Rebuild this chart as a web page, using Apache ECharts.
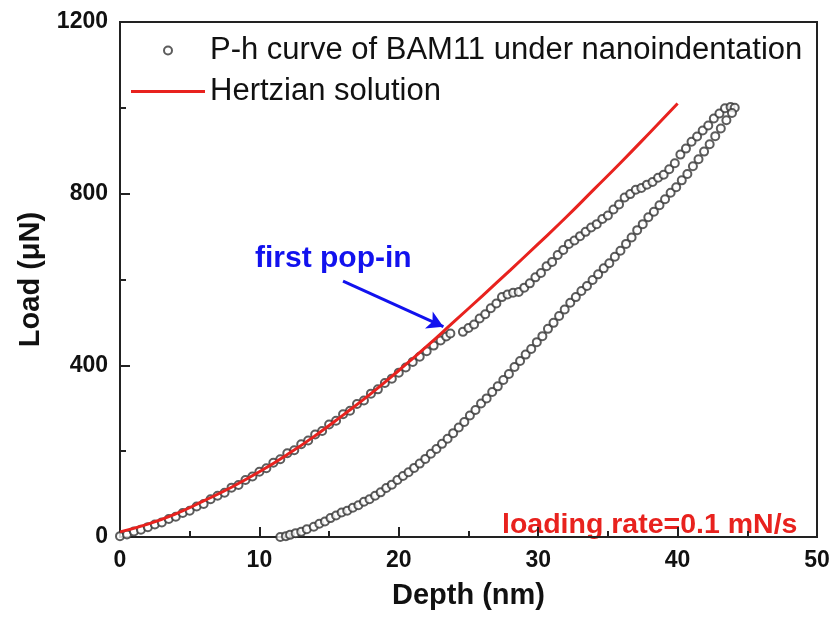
<!DOCTYPE html>
<html>
<head>
<meta charset="utf-8">
<script src="https://cdn.jsdelivr.net/npm/echarts@6/dist/echarts.min.js"></script>
<style>
  html, body { margin: 0; padding: 0; background: #fff; }
  #main { width: 830px; height: 621px; }
</style>
</head>
<body>
<div id="main"></div>
<script>
// loading branch up to the first pop-in
const loadH = [0.0, 0.5, 1.0, 1.5, 2.0, 2.5, 3.0, 3.5, 4.0, 4.5, 5.0, 5.5, 6.0, 6.5, 7.0, 7.5, 8.0, 8.5, 9.0, 9.5,
  10.0, 10.5, 11.0, 11.5, 12.0, 12.5, 13.0, 13.5, 14.0, 14.5, 15.0, 15.5, 16.0, 16.5, 17.0, 17.5, 18.0, 18.5, 19.0, 19.5,
  20.0, 20.5, 21.0, 21.5, 22.0, 22.5, 23.0, 23.4, 23.7]
const loadP = [2, 6, 13, 17, 23, 29, 34, 42, 47, 56, 61, 71, 77, 88, 96, 103, 115, 121, 133, 141,
  152, 160, 173, 181, 195, 202, 216, 225, 239, 247, 262, 271, 286, 294, 310, 318, 334, 344, 359, 369,
  383, 395, 408, 420, 433, 446, 458, 467, 474]

// loading branch after the pop-in
const popH = [24.6, 25.0, 25.4, 25.8, 26.2, 26.6, 27.0, 27.4, 27.8, 28.2, 28.6, 29.0, 29.4, 29.8, 30.2, 30.6, 31.0, 31.4,
  31.8, 32.2, 32.6, 33.0, 33.4, 33.8, 34.2, 34.6, 35.0, 35.4, 35.8, 36.2, 36.6, 37.0, 37.4, 37.8, 38.2, 38.6, 39.0, 39.4,
  39.8, 40.2, 40.6, 41.0, 41.4, 41.8, 42.2, 42.6, 43.0, 43.4, 43.8, 44.1]
const popP = [478, 487, 495, 509, 519, 533, 544, 559, 565, 569, 571, 581, 591, 605, 615, 631, 641, 657,
  669, 683, 691, 701, 711, 721, 729, 741, 749, 763, 775, 791, 799, 809, 813, 821, 827, 837, 844, 857,
  871, 891, 905, 921, 933, 947, 959, 975, 987, 999, 1002, 1000]

// unloading branch
const unloadH = [11.5, 11.9, 12.2, 12.6, 13.0, 13.4, 13.9, 14.3, 14.7, 15.1, 15.5, 15.9, 16.3, 16.7, 17.1, 17.5, 17.9,
  18.3, 18.7, 19.1, 19.5, 19.9, 20.3, 20.7, 21.1, 21.5, 21.9, 22.3, 22.7, 23.1, 23.5, 23.9, 24.3, 24.7, 25.1, 25.5,
  25.9, 26.3, 26.7, 27.1, 27.5, 27.9, 28.3, 28.7, 29.1, 29.5, 29.9, 30.3, 30.7, 31.1, 31.5, 31.9, 32.3, 32.7, 33.1,
  33.5, 33.9, 34.3, 34.7, 35.1, 35.5, 35.9, 36.3, 36.7, 37.1, 37.5, 37.9, 38.3, 38.7, 39.1, 39.5, 39.9, 40.3, 40.7,
  41.1, 41.5, 41.9, 42.3, 42.7, 43.1, 43.5, 43.9]
const unloadP = [0, 2, 5, 9, 12, 18, 24, 31, 36, 44, 50, 57, 61, 68, 74, 82, 88, 96, 104, 114, 122, 133, 142, 151,
  161, 171, 182, 194, 205, 217, 229, 242, 255, 268, 283, 296, 311, 323, 338, 351, 366, 380, 396, 410, 425, 438, 454,
  468, 485, 499, 515, 530, 546, 559, 573, 585, 599, 612, 626, 638, 653, 667, 683, 698, 715, 729, 745, 758, 773, 787,
  802, 815, 831, 846, 864, 880, 898, 915, 934, 952, 971, 988]

// Hertzian solution
const hertzH = [0, 2, 4, 6, 8, 10, 12, 14, 16, 18, 20, 22, 24, 26, 28, 30, 32, 34, 36, 38, 40]
const hertzP = [12, 30, 54, 84, 116, 152, 192, 236, 284, 334, 388, 444, 503, 562, 622, 683, 745, 810, 875, 942, 1010]

// pop-in arrow ends (data coords)
const arrowFrom = [16.0, 596]
const arrowTo = [23.2, 490]

const xTicks = [0, 50, 10]
const yTicks = [0, 1200, 400]

const pair = (hs, ps) => hs.map((h, i) => [h, ps[i]])
const expData = pair(loadH, loadP).concat(pair(popH, popP), pair(unloadH, unloadP))
const hertzData = pair(hertzH, hertzP)

const FONT = '"Liberation Sans", Arial, sans-serif'
const RED = '#e8221e'
const chart = echarts.init(document.getElementById('main'))

chart.setOption({
  animation: false,
  grid: {
    left: 120, right: 13, top: 22, bottom: 84,
    show: true, borderColor: '#222', borderWidth: 2,
    outerBoundsMode: 'none'
  },
  legend: {
    orient: 'vertical',
    left: 126, top: 30,
    itemWidth: 74, itemHeight: 8, itemGap: 10,
    textStyle: { fontFamily: FONT, fontSize: 31, color: '#111' },
    data: [
      'P-h curve of BAM11 under nanoindentation',
      { name: 'Hertzian solution', icon: 'path://M0,0H74V3H0Z', itemStyle: { color: RED } }
    ]
  },
  xAxis: {
    type: 'value',
    min: xTicks[0], max: xTicks[1], interval: xTicks[2],
    name: 'Depth (nm)', nameLocation: 'middle', nameGap: 44,
    nameTextStyle: { fontFamily: FONT, fontSize: 29, fontWeight: 'bold', color: '#111' },
    axisLine: { lineStyle: { color: '#222', width: 2 } },
    axisTick: { inside: true, length: 10, lineStyle: { color: '#222', width: 2 } },
    minorTick: { show: true, splitNumber: 2, length: 6, lineStyle: { color: '#222', width: 2 } },
    axisLabel: { margin: 12, fontFamily: FONT, fontSize: 23, fontWeight: 'bold', color: '#111' },
    splitLine: { show: false }
  },
  yAxis: {
    type: 'value',
    min: yTicks[0], max: yTicks[1], interval: yTicks[2],
    name: 'Load (\u03bcN)', nameLocation: 'middle', nameGap: 74, nameRotate: 90,
    nameTextStyle: { fontFamily: FONT, fontSize: 29, fontWeight: 'bold', color: '#111' },
    axisLine: { lineStyle: { color: '#222', width: 2 } },
    axisTick: { inside: true, length: 10, lineStyle: { color: '#222', width: 2 } },
    minorTick: { show: true, splitNumber: 2, length: 6, lineStyle: { color: '#222', width: 2 } },
    axisLabel: {
      margin: 12, fontFamily: FONT, fontSize: 23, fontWeight: 'bold', color: '#111',
      formatter: v => String(v)
    },
    splitLine: { show: false }
  },
  series: [
    {
      name: 'P-h curve of BAM11 under nanoindentation',
      type: 'scatter',
      symbol: 'emptyCircle',
      symbolSize: 8,
      itemStyle: { color: '#333', borderColor: '#333', borderWidth: 1.1 },
      data: expData,
      z: 2
    },
    {
      name: 'Hertzian solution',
      type: 'line',
      symbol: 'none',
      smooth: true,
      lineStyle: { color: RED, width: 3 },
      itemStyle: { color: RED },
      data: hertzData,
      z: 3,
      markLine: {
        silent: true,
        symbol: ['none', 'arrow'],
        symbolSize: [14, 16],
        lineStyle: { color: '#1212ee', width: 3, type: 'solid' },
        label: { show: false },
        data: [[{ coord: arrowFrom }, { coord: arrowTo }]]
      }
    }
  ],
  graphic: [
    {
      type: 'text', left: 255, top: 244,
      style: { text: 'first pop-in', fontFamily: FONT, fontSize: 30, fontWeight: 'bold', fill: '#1212ee' }
    },
    {
      type: 'text', left: 502, top: 511,
      style: { text: 'loading rate=0.1 mN/s', fontFamily: FONT, fontSize: 28.5, fontWeight: 'bold', fill: RED }
    }
  ]
})
</script>
</body>
</html>
